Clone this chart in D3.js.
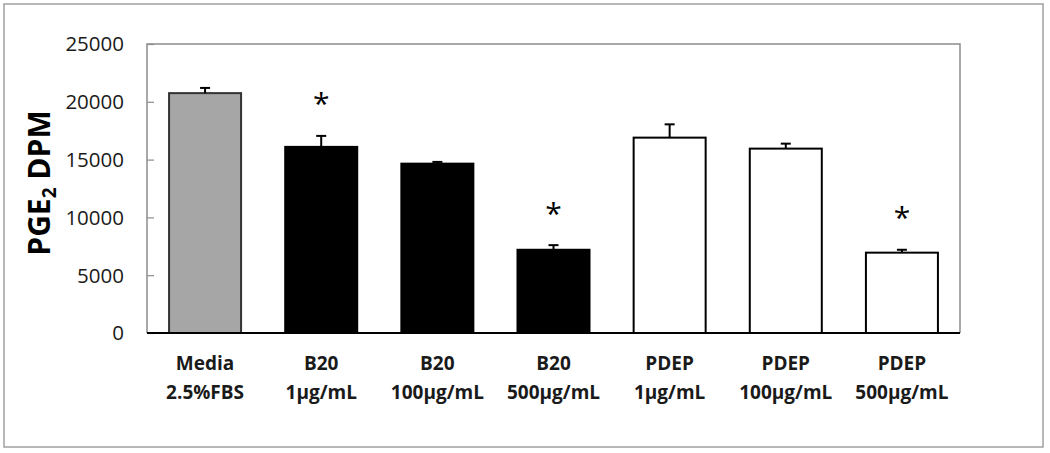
<!DOCTYPE html>
<html>
<head>
<meta charset="utf-8">
<script src="https://cdn.jsdelivr.net/npm/d3@7"></script>
<style>
  body { margin: 0; background: #fff; }
  svg { display: block; }
  text { font-family: "Open Sans", sans-serif; }
</style>
</head>
<body>
<div id="chart"></div>
<script>
const groups = ['Media', 'B20', 'B20', 'B20', 'PDEP', 'PDEP', 'PDEP']
const doses = ['2.5%FBS', '1µg/mL', '100µg/mL', '500µg/mL', '1µg/mL', '100µg/mL', '500µg/mL']
const values = [20750, 16100, 14650, 7200, 16900, 15950, 6950]
const errors = [450, 950, 150, 400, 1150, 430, 250]
const significant = [false, true, false, true, false, false, true]
const fills = ['#a6a6a6', '#000', '#000', '#000', '#fff', '#fff', '#fff']
const yTicks = [0, 5000, 10000, 15000, 20000, 25000]

const W = 1050
const H = 453
const margin = { left: 147, right: 90, top: 44, bottom: 120 }

const svg = d3.select('#chart').append('svg').attr('width', W).attr('height', H)

// outer frame
svg.append('rect')
  .attr('x', 4).attr('y', 4).attr('width', 1039).attr('height', 443)
  .attr('fill', '#fff').attr('stroke', '#a0a0a0').attr('stroke-width', 1.5)

const x = d3.scaleBand()
  .domain(d3.range(values.length))
  .range([margin.left, W - margin.right])
  .paddingInner(0.38).paddingOuter(0.19)

const y = d3.scaleLinear([0, 25000], [H - margin.bottom, margin.top])

// plot frame (gray)
svg.append('path')
  .attr('d', `M${margin.left},${y(0)}V${y(25000)}H${W - margin.right}V${y(0)}`)
  .attr('fill', 'none').attr('stroke', '#8c8c8c').attr('stroke-width', 1.5)

// y axis
const yAxis = svg.append('g')
  .attr('transform', `translate(${margin.left},0)`)
  .call(d3.axisRight(y).tickValues(yTicks).tickSize(7).tickFormat(''))
yAxis.select('.domain').remove()
yAxis.selectAll('line').attr('stroke', '#8c8c8c').attr('stroke-width', 1.2)

svg.append('g').selectAll('text')
  .data(yTicks)
  .join('text')
  .attr('x', 124)
  .attr('y', (d) => y(d))
  .attr('dy', '0.36em')
  .attr('text-anchor', 'end')
  .attr('font-size', 20.5)
  .attr('fill', '#1a1a1a')
  .text((d) => d)

// bars
svg.append('g').selectAll('rect')
  .data(values)
  .join('rect')
  .attr('x', (d, i) => x(i))
  .attr('y', (d) => y(d))
  .attr('width', x.bandwidth())
  .attr('height', (d) => y(0) - y(d))
  .attr('fill', (d, i) => fills[i])
  .attr('stroke', (d, i) => (i === 0 ? '#333' : '#000'))
  .attr('stroke-width', 2)

// error bars (upper only)
const eb = svg.append('g').attr('stroke', '#000').attr('stroke-width', 2)
values.forEach((v, i) => {
  const cx = x(i) + x.bandwidth() / 2
  eb.append('line').attr('x1', cx).attr('x2', cx).attr('y1', y(v)).attr('y2', y(v + errors[i]))
  eb.append('line').attr('x1', cx - 5).attr('x2', cx + 5).attr('y1', y(v + errors[i])).attr('y2', y(v + errors[i]))
})

// x baseline
svg.append('line')
  .attr('x1', margin.left).attr('x2', W - margin.right)
  .attr('y1', y(0)).attr('y2', y(0))
  .attr('stroke', '#000').attr('stroke-width', 2)

// significance stars
svg.append('g').selectAll('text')
  .data(values.map((v, i) => ({ v, i })).filter((d) => significant[d.i]))
  .join('text')
  .attr('x', (d) => x(d.i) + x.bandwidth() / 2)
  .attr('y', (d) => y(d.v + errors[d.i]) - 38)
  .attr('dy', '0.55em')
  .attr('text-anchor', 'middle')
  .attr('font-size', 30)
  .attr('fill', '#000')
  .text('*')

// category labels
const lab = svg.append('g').selectAll('text')
  .data(groups)
  .join('text')
  .attr('text-anchor', 'middle')
  .attr('font-size', 19)
  .attr('font-weight', 'bold')
  .attr('fill', '#1a1a1a')
lab.append('tspan')
  .attr('x', (d, i) => x(i) + x.bandwidth() / 2)
  .attr('y', 370)
  .text((d) => d)
lab.append('tspan')
  .attr('x', (d, i) => x(i) + x.bandwidth() / 2)
  .attr('y', 399)
  .text((d, i) => doses[i])

// y title
const title = svg.append('text')
  .attr('transform', `translate(50,183) rotate(-90)`)
  .attr('text-anchor', 'middle')
  .attr('font-size', 30)
  .attr('font-weight', 'bold')
  .attr('fill', '#000')
title.append('tspan').text('PGE')
title.append('tspan').attr('font-size', 19).attr('dy', 6).text('2')
title.append('tspan').attr('dy', -6).text(' DPM')
</script>
</body>
</html>
